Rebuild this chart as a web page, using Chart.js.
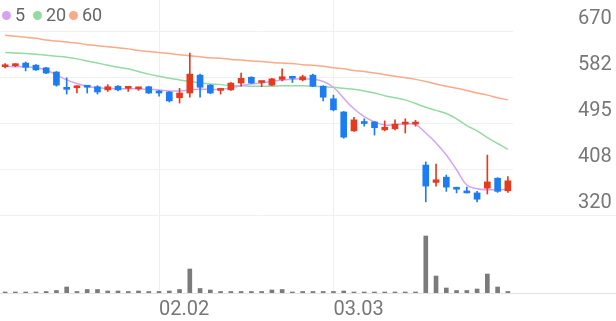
<!DOCTYPE html>
<html>
<head>
<meta charset="utf-8">
<script src="https://cdn.jsdelivr.net/npm/chart.js@4"></script>
<style>
  html, body { margin: 0; padding: 0; background: #fff; }
  #wrap { position: relative; width: 616px; height: 321px; }
  #legend { position: absolute; left: 0; top: 0; font-family: Roboto, sans-serif; font-size: 18px; color: #666; }
  #legend .dot { position: absolute; top: 11px; width: 9px; height: 9px; border-radius: 50%; }
  #legend .txt { position: absolute; top: 5px; line-height: 20px; white-space: nowrap; }
</style>
</head>
<body>
<div id="wrap">
  <canvas id="stockChart" width="616" height="321"></canvas>
  <div id="legend"></div>
</div>
<script>
// x categories, 50 sessions; only two dates are labelled on the axis
const dateLabels = [
  '', '', '', '', '', '', '', '', '', '',
  '', '', '', '', '', '02.02', '', '', '', '',
  '', '', '', '', '', '', '', '', '', '',
  '', '', '03.03', '', '', '', '', '', '', '',
  '', '', '', '', '', '', '', '', '', ''
];

const openP  = [602,604,609,605,600,592,561,562,565,564,558,565,561,560,564,553,554,543,552,586,567,557,558,571,582,572,567,578,583,577,586,565,541,516,480,496,497,482,484,493,493,415,382,392,370,365,362,371,390,366];
const highP  = [608,608,611,606,601,593,581,566,566,566,568,566,562,563,565,557,555,561,628,588,568,559,572,590,583,574,580,598,584,586,588,566,548,517,506,503,498,499,501,503,500,421,417,396,373,373,365,434,391,393];
const lowP   = [600,602,594,595,589,565,550,552,552,550,555,556,555,557,551,546,535,533,544,544,551,550,557,565,570,564,566,575,572,575,564,537,518,466,479,489,472,480,482,476,489,345,375,365,362,362,345,360,363,363];
const closeP = [605,606,601,596,590,567,559,565,563,554,564,558,562,562,552,552,537,552,588,563,552,559,571,580,571,573,579,583,580,583,565,544,520,468,501,494,486,487,493,495,495,375,387,373,369,362,350,383,365,385];

const ma5  = [603,602,602,600,596,586,577,570,565,562,561,560,560,560,559,558,556,556,558,559,559,559,562,566,569,571,574,577,578,579,578,574,563,542,522,507,497,491,492,493,492,476,457,434,406,377,370,368,368,369];
const ma20 = [629,628,627,626,624,622,620,617,613,609,605,601,598,593,588,584,580,577,574,571,569,568,566,566,565,565,565,566,566,566,565,564,563,561,559,556,552,547,543,539,532,525,519,513,503,490,480,467,456,445];
const ma60 = [662,660,658,656,653,651,649,647,644,642,640,638,636,633,631,629,627,625,623,621,619,618,616,615,613,612,610,609,608,606,605,603,600,598,595,593,590,587,584,581,578,574,569,565,561,557,552,548,543,539];

const volume = [10000,10000,10000,10000,15000,25000,60000,15000,35000,35000,20000,20000,15000,20000,15000,15000,20000,35000,240000,45000,30000,15000,15000,15000,15000,15000,30000,35000,10000,15000,15000,15000,15000,20000,10000,10000,10000,10000,10000,10000,10000,570000,170000,50000,25000,25000,40000,190000,60000,15000];

const priceTicks = [320, 407.5, 495, 582.5, 670];
const priceTickLabels = ['320', '408', '495', '582', '670'];

const maNames = ['5', '20', '60'];
const maColors = ['#d7a2f2', '#93dba2', '#fba987'];
const upColor = '#e63a1e';
const downColor = '#1c7cf2';

const candleColors = openP.map((o, i) => closeP[i] >= o ? upColor : downColor);

// legend as html text
const legendPos = [[2, 15], [33, 46], [69, 82]];
const legendEl = document.getElementById('legend');
maNames.forEach((name, i) => {
  legendEl.innerHTML += '<span class="dot" style="left:' + legendPos[i][0] + 'px;background:' + maColors[i] + '"></span>' +
    '<span class="txt" style="left:' + legendPos[i][1] + 'px">' + name + '</span>';
});

// price/volume separator and bottom line run across the full width
const separatorLines = {
  id: 'separatorLines',
  beforeDatasetsDraw(chart) {
    const { ctx, chartArea, scales } = chart;
    const y = Math.round(scales.y.getPixelForValue(priceTicks[0])) + 0.5;
    const yb = Math.round(chartArea.bottom) + 0.5;
    ctx.save();
    ctx.lineWidth = 1;
    ctx.strokeStyle = '#efefef';
    ctx.beginPath();
    ctx.moveTo(chartArea.right, y);
    ctx.lineTo(chart.width, y);
    ctx.stroke();
    ctx.strokeStyle = '#e4e4e4';
    ctx.beginPath();
    ctx.moveTo(0, yb);
    ctx.lineTo(chart.width, yb);
    ctx.stroke();
    ctx.restore();
  }
};

function maDataset(i, data) {
  return {
    type: 'line',
    data: data,
    borderColor: maColors[i],
    borderWidth: 1.5,
    pointRadius: 0,
    tension: 0.4,
    fill: false,
    yAxisID: 'y',
    order: 5
  };
}

const ctx = document.getElementById('stockChart').getContext('2d');
const stockChart = new Chart(ctx, {
  type: 'bar',
  data: {
    labels: dateLabels,
    datasets: [
      maDataset(0, ma5),
      maDataset(1, ma20),
      maDataset(2, ma60),
      {
        data: volume,
        backgroundColor: '#7b7b7b',
        barThickness: 4,
        grouped: false,
        yAxisID: 'yv',
        order: 6
      },
      {
        data: lowP.map((l, i) => [l, highP[i]]),
        backgroundColor: candleColors,
        barThickness: 1,
        grouped: false,
        yAxisID: 'y',
        order: 2
      },
      {
        data: openP.map((o, i) => [o, closeP[i]]),
        backgroundColor: candleColors,
        barThickness: 6,
        minBarLength: 2,
        grouped: false,
        yAxisID: 'y',
        order: 1
      }
    ]
  },
  options: {
    responsive: false,
    animation: false,
    layout: { padding: 0 },
    plugins: {
      legend: { display: false },
      tooltip: { enabled: false }
    },
    scales: {
      x: {
        offset: true,
        grid: {
          offset: false,
          drawTicks: false,
          color: (c) => dateLabels[c.index] ? '#efefef' : 'rgba(0,0,0,0)'
        },
        border: { display: false },
        ticks: {
          autoSkip: false,
          maxRotation: 0,
          align: 'start',
          padding: 5,
          color: '#777',
          font: { family: 'Roboto', size: 20 }
        },
        afterFit: (scale) => {
          scale.height = 28;
          scale.paddingLeft = 0;
          scale.paddingRight = 0;
        }
      },
      y: {
        position: 'right',
        min: 171.63,
        max: 728.97,
        afterBuildTicks: (scale) => {
          scale.ticks = priceTicks.map(v => ({ value: v }));
        },
        grid: { drawTicks: false, color: '#f0f0f0' },
        border: { display: false },
        ticks: {
          callback: (value, index) => priceTickLabels[index],
          crossAlign: 'near',
          padding: 65,
          labelOffset: -12,
          color: '#777',
          font: { family: 'Roboto', size: 20 }
        },
        afterFit: (scale) => {
          scale.width = 103;
          scale.paddingTop = 0;
          scale.paddingBottom = 0;
        }
      },
      yv: {
        display: false,
        min: 0,
        max: 2930000
      }
    }
  },
  plugins: [separatorLines]
});
</script>
</body>
</html>
